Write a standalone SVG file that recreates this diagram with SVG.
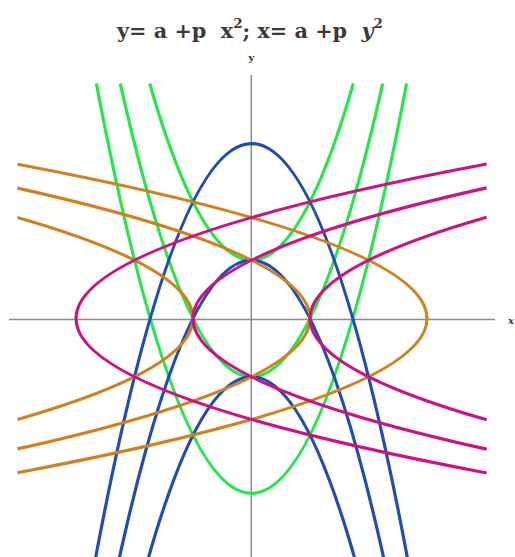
<svg xmlns="http://www.w3.org/2000/svg" width="515" height="557" viewBox="0 0 515 557">
<style>
.axis{stroke:#8c8c8c;stroke-width:1.5;fill:none}
.c{fill:none;stroke-width:3.2;stroke-linecap:butt}
.g{stroke:#26e64b}
.b{stroke:#1f4db0}
.o{stroke:#cf8220}
.m{stroke:#cc1284}
.title{font-family:"DejaVu Serif","Liberation Serif",serif;font-weight:bold;font-size:20px;fill:#3a3a3a}
.lbl{font-family:"DejaVu Serif","Liberation Serif",serif;font-weight:bold;font-size:10px;fill:#333}
</style>
<rect width="515" height="557" fill="#fff"/>
<g id="title">
<text class="title" x="117" y="38" xml:space="preserve" textLength="266" lengthAdjust="spacingAndGlyphs">y= a +p  x<tspan dy="-10" font-size="13">2</tspan><tspan dy="10">; x= a +p  </tspan><tspan font-style="italic">y</tspan><tspan dy="-10" font-size="13">2</tspan></text>
</g>
<g id="axes">
<line class="axis" x1="9" y1="319.5" x2="495" y2="319.5"/>
<line class="axis" x1="251.3" y1="75" x2="251.3" y2="557"/>
<text class="lbl" x="251.3" y="61" text-anchor="middle">y</text>
<text class="lbl" x="508" y="324" font-style="italic">x</text>
</g>
<g id="connectors">
<g id="green">
<path class="c g" d="M96.39,83.55 Q251.5,903.25 406.61,83.55"/>
<path class="c g" d="M120.30,83.55 Q251.5,670.05 382.70,83.55"/>
<path class="c g" d="M149.67,83.55 Q251.5,436.85 353.33,83.55"/>
</g>
<g id="blue">
<path class="c b" d="M93.98,566.3 Q251.5,-279.08 409.02,566.3"/>
<path class="c b" d="M117.46,566.3 Q251.5,-45.88 385.54,566.3"/>
<path class="c b" d="M146.04,566.3 Q251.5,187.32 356.96,566.3"/>
</g>
<g id="orange">
<path class="c o" d="M17.5,164.25 Q836.5,318.5 17.5,472.75"/>
<path class="c o" d="M17.5,188.14 Q602.5,318.5 17.5,448.86"/>
<path class="c o" d="M17.5,217.52 Q368.5,318.5 17.5,419.48"/>
</g>
<g id="magenta">
<path class="c m" d="M486.67,164.03 Q-334.67,318.5 486.67,472.97"/>
<path class="c m" d="M486.67,187.88 Q-100.67,318.5 486.67,449.12"/>
<path class="c m" d="M486.67,217.19 Q133.33,318.5 486.67,419.81"/>
</g>
</g>
</svg>
